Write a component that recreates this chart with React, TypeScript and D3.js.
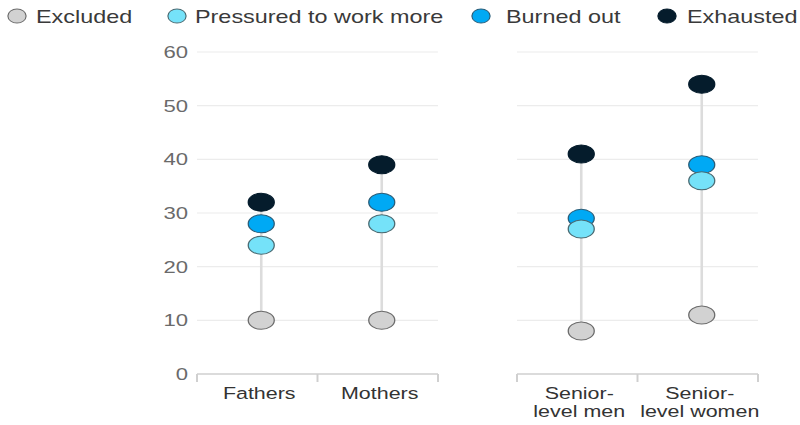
import React from "react";
import * as d3 from "d3";

const categories = ["Fathers", "Mothers", "Senior-level men", "Senior-level women"];
const categoryLines = [["Fathers"], ["Mothers"], ["Senior-", "level men"], ["Senior-", "level women"]];
const excluded = [10, 10, 8, 11];
const pressured = [24, 28, 27, 36];
const burnedOut = [28, 32, 29, 39];
const exhausted = [32, 39, 41, 54];
const yTicks = [0, 10, 20, 30, 40, 50, 60];
const seriesNames = ["Excluded", "Pressured to work more", "Burned out", "Exhausted"];
const seriesColors = ["#d2d2d2", "#75e2f9", "#00a9f4", "#051c2c"];
const seriesStrokes = ["#6b6b6b", "#4a6a72", "#2a5d78", "#051c2c"];

const W = 800;
const H = 425;
const SX = 1.3; // horizontal stretch of the reference
const IW = W / SX;
const X = (v: number) => v / SX;

export default function App() {
  const y = d3.scaleLinear().domain([0, 60]).range([374, 52]);
  const panels = [
    { cats: [0, 1], x0: 197, x1: 438 },
    { cats: [2, 3], x0: 517, x1: 758 },
  ];
  const series = [excluded, pressured, burnedOut, exhausted];
  const drawOrder = [3, 2, 1, 0];
  const legendPos = [
    { cx: 17, tx: 36 },
    { cx: 177, tx: 195 },
    { cx: 481, tx: 506 },
    { cx: 667, tx: 687 },
  ];
  const font = "'Liberation Sans', Arial, sans-serif";

  return (
    <svg
      width={W}
      height={H}
      viewBox={`0 0 ${IW} ${H}`}
      preserveAspectRatio="none"
      style={{ position: "absolute", left: 0, top: 0, background: "#fff" }}
      fontFamily={font}
    >
      {/* legend */}
      {seriesNames.map((n, i) => (
        <g key={n}>
          <circle
            cx={X(legendPos[i].cx)}
            cy={16}
            r={7}
            fill={seriesColors[i]}
            stroke={seriesStrokes[i]}
            strokeWidth={0.9}
          />
          <text x={X(legendPos[i].tx)} y={23} fontSize={18} fill="#3a3a3a">
            {n}
          </text>
        </g>
      ))}

      {/* y tick labels */}
      {yTicks.map((t) => (
        <text
          key={t}
          x={X(188)}
          y={y(t)}
          dy="0.36em"
          textAnchor="end"
          fontSize={17}
          fill="#6a6a6a"
        >
          {t}
        </text>
      ))}

      {panels.map((p, pi) => {
        const xb = d3
          .scaleBand<number>()
          .domain(p.cats)
          .range([X(p.x0), X(p.x1)]);
        const off = X(4);
        return (
          <g key={pi}>
            {yTicks
              .filter((t) => t > 0)
              .map((t) => (
                <line
                  key={t}
                  x1={X(p.x0)}
                  x2={X(p.x1)}
                  y1={y(t)}
                  y2={y(t)}
                  stroke="#ececec"
                  strokeWidth={1.2}
                />
              ))}
            <line x1={X(p.x0)} x2={X(p.x1)} y1={y(0)} y2={y(0)} stroke="#cfcfcf" strokeWidth={1.5} />
            {[X(p.x0), X((p.x0 + p.x1) / 2), X(p.x1)].map((tx, k) => (
              <line key={k} x1={tx} x2={tx} y1={y(0)} y2={y(0) + 8} stroke="#cfcfcf" strokeWidth={1.5} />
            ))}
            {p.cats.map((c) => {
              const cx = (xb(c) as number) + xb.bandwidth() / 2;
              return (
                <g key={c}>
                  <line
                    x1={cx + off}
                    x2={cx + off}
                    y1={y(excluded[c])}
                    y2={y(exhausted[c])}
                    stroke="#dcdcdc"
                    strokeWidth={2}
                  />
                  {drawOrder.map((si) => (
                    <ellipse
                      key={si}
                      cx={cx + off}
                      cy={y(series[si][c])}
                      rx={10}
                      ry={9}
                      fill={seriesColors[si]}
                      stroke={seriesStrokes[si]}
                      strokeWidth={1}
                    />
                  ))}
                  {categoryLines[c].map((ln, li) => (
                    <text
                      key={li}
                      x={cx + X(2)}
                      y={399 + li * 18.5}
                      textAnchor="middle"
                      fontSize={16.5}
                      fill="#333"
                    >
                      {ln}
                    </text>
                  ))}
                </g>
              );
            })}
          </g>
        );
      })}
    </svg>
  );
}
